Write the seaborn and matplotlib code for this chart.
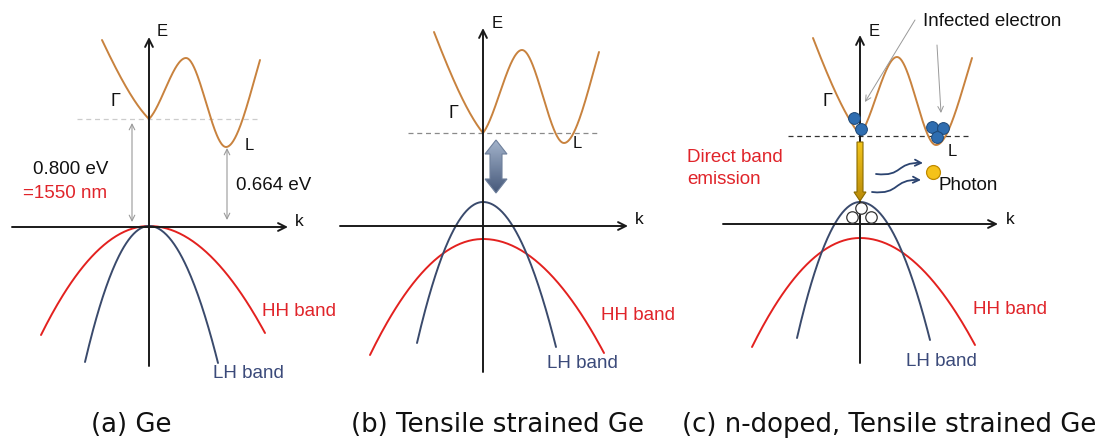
import numpy as np
import pandas as pd
import matplotlib
matplotlib.use("Agg")
import matplotlib.pyplot as plt
import seaborn as sns
from matplotlib.patches import Polygon, FancyArrowPatch
from matplotlib.path import Path

sns.set_theme(style="white")
plt.rcParams['font.family'] = ['Liberation Sans', 'DejaVu Sans']

# ---------------- data (pixel-space diagram coordinates) ----------------
captions = ["(a) Ge", "(b) Tensile strained Ge", "(c) n-doped, Tensile strained Ge"]
caption_x = [91, 351, 682]

# conduction band key points: start, Gamma min, maximum, L min, end
cb_x = [[102, 149, 186, 226, 260], [434, 483, 522, 564, 599], [813, 860, 897, 936, 972]]
cb_y = [[40, 119, 58, 147, 60], [32, 133, 50, 143, 52], [38, 135, 57, 145, 58]]

# valence bands: peak energy, left end, right end
hh_peak = [226, 239, 238]
hh_left = [(41, 335), (370, 355), (752, 347)]
hh_right = [(265, 333), (604, 353), (975, 345)]
lh_peak = [226, 202, 202]
lh_left = [(85, 362), (417, 343), (797, 338)]
lh_right = [(218, 363), (556, 347), (930, 340)]

# axes of each panel
e_axis_x = [149, 483, 860]
e_axis_y = [(366, 37), (372, 28), (363, 35)]
k_axis_y = [227, 226, 224]
k_axis_x = [(12, 288), (340, 628), (723, 998)]

# dashed Gamma-level lines
dash_y = [119, 133, 136]
dash_x = [(77, 257), (408, 597), (788, 968)]
dash_col = ["#cccccc", "#8a8a8a", "#333333"]

# electrons, holes, photon in panel (c)
elec_x = [854, 861, 932, 943, 937]
elec_y = [118, 129, 127, 128, 137]
hole_x = [852, 861, 871]
hole_y = [217, 208, 217]
photon_xy = (933, 172)

colors = {"CB": "#c8823e", "HH": "#e3211f", "LH": "#3a4a6c"}
red_text = "#e0242a"
navy_text = "#3b4a7a"


def hermite(x0, y0, x1, y1, m0, m1, n=80):
    t = np.linspace(0, 1, n)
    dx = x1 - x0
    h00 = 2 * t**3 - 3 * t**2 + 1
    h10 = t**3 - 2 * t**2 + t
    h01 = -2 * t**3 + 3 * t**2
    h11 = t**3 - t**2
    return list(x0 + dx * t), list(h00 * y0 + h10 * dx * m0 + h01 * y1 + h11 * dx * m1)


def cb_curve(xs, ys):
    X, Y = [], []
    avg = [(ys[i + 1] - ys[i]) / (xs[i + 1] - xs[i]) for i in range(4)]
    segs = [(0, 1, 1.25 * avg[0], 0.6 * avg[0]),
            (1, 2, 0.6 * avg[1], 0.0),
            (2, 3, 0.0, 0.0),
            (3, 4, 0.0, 1.35 * avg[3])]
    for a, b, m0, m1 in segs:
        x, y = hermite(xs[a], ys[a], xs[b], ys[b], m0, m1)
        if X:
            x, y = x[1:], y[1:]
        X += x
        Y += y
    return X, Y


def vb_curve(x0, peak, left, right, n=80):
    xl = np.linspace(left[0], x0, n)
    yl = peak + (left[1] - peak) * ((xl - x0) / (left[0] - x0)) ** 2
    xr = np.linspace(x0, right[0], n)[1:]
    yr = peak + (right[1] - peak) * ((xr - x0) / (right[0] - x0)) ** 2
    return list(xl) + list(xr), list(yl) + list(yr)


rows = []
for p in range(3):
    X, Y = cb_curve(cb_x[p], cb_y[p])
    rows += [dict(x=a, y=b, band="CB", unit=f"CB{p}") for a, b in zip(X, Y)]
    X, Y = vb_curve(e_axis_x[p], hh_peak[p], hh_left[p], hh_right[p])
    rows += [dict(x=a, y=b, band="HH", unit=f"HH{p}") for a, b in zip(X, Y)]
    X, Y = vb_curve(e_axis_x[p], lh_peak[p], lh_left[p], lh_right[p])
    rows += [dict(x=a, y=b, band="LH", unit=f"LH{p}") for a, b in zip(X, Y)]
df = pd.DataFrame(rows)

fig = plt.figure(figsize=(11.02, 4.41), dpi=100)
ax = fig.add_axes([0, 0, 1, 1])

# axes arrows
for p in range(3):
    ax.annotate("", xy=(e_axis_x[p], e_axis_y[p][1]), xytext=(e_axis_x[p], e_axis_y[p][0]),
                arrowprops=dict(arrowstyle="->", lw=1.4, color="#1a1a1a", mutation_scale=14,
                                shrinkA=0, shrinkB=0))
    ax.annotate("", xy=(k_axis_x[p][1], k_axis_y[p]), xytext=(k_axis_x[p][0], k_axis_y[p]),
                arrowprops=dict(arrowstyle="->", lw=1.4, color="#1a1a1a", mutation_scale=14,
                                shrinkA=0, shrinkB=0))
    ax.plot(dash_x[p], [dash_y[p]] * 2, ls=(0, (4, 3)), lw=0.9, color=dash_col[p])

sns.lineplot(data=df, x="x", y="y", hue="band", units="unit", estimator=None, sort=False,
             palette=colors, linewidth=1.4, legend=False, ax=ax)

# panel (a) gap arrows
for (gx, y0, y1) in [(132, 123, 222), (227, 148, 220)]:
    ax.annotate("", xy=(gx, y0), xytext=(gx, y1),
                arrowprops=dict(arrowstyle="<->", lw=0.8, color="#9a9a9a", mutation_scale=10,
                                shrinkA=0, shrinkB=0))


def gradient_poly(verts, c_top, c_bot, edge):
    poly = Polygon(verts, closed=True, fc="none", ec=edge, lw=0.8, zorder=4)
    ax.add_patch(poly)
    xs = [v[0] for v in verts]
    ys = [v[1] for v in verts]
    cmap = matplotlib.colors.LinearSegmentedColormap.from_list("g", [c_top, c_bot])
    grad = np.linspace(0, 1, 100).reshape(-1, 1)
    im = ax.imshow(grad, cmap=cmap, aspect="auto", origin="upper",
                   extent=(min(xs), max(xs), max(ys), min(ys)), zorder=3)
    im.set_clip_path(poly)


# panel (b) thick double arrow
cx, top, bot, hw, hl, sw = 496, 140, 193, 11, 14, 6
gradient_poly([(cx, top), (cx + hw, top + hl), (cx + sw, top + hl), (cx + sw, bot - hl),
               (cx + hw, bot - hl), (cx, bot), (cx - hw, bot - hl), (cx - sw, bot - hl),
               (cx - sw, top + hl), (cx - hw, top + hl)], "#a3b3cb", "#46597a", "#6f809c")

# panel (c) emission arrow
cx, top, bot, hw, hl, sw = 860, 142, 201, 6, 9, 3
gradient_poly([(cx - sw, top), (cx + sw, top), (cx + sw, bot - hl), (cx + hw, bot - hl),
               (cx, bot), (cx - hw, bot - hl), (cx - sw, bot - hl)], "#f3c51c", "#b98a08", "#8a6a00")

# electrons / holes / photon
sns.scatterplot(x=elec_x, y=elec_y, s=72, color="#2f6db0", edgecolor="#1d4877", linewidth=0.7,
                ax=ax, zorder=5)
sns.scatterplot(x=hole_x, y=hole_y, s=68, color="white", edgecolor="#333333", linewidth=0.9,
                ax=ax, zorder=5)
sns.scatterplot(x=[photon_xy[0]], y=[photon_xy[1]], s=100, color="#f5c21a", edgecolor="#c08a00",
                linewidth=0.9, ax=ax, zorder=5)

# wavy photon arrows
for (x0, y0, x1, y1) in [(876, 174, 923, 163), (872, 192, 921, 180)]:
    mx = (x0 + x1) / 2
    path = Path([(x0, y0), (mx + 4, y0 + 3), (mx - 4, y1 - 1), (x1, y1)],
                [Path.MOVETO, Path.CURVE4, Path.CURVE4, Path.CURVE4])
    ax.add_patch(FancyArrowPatch(path=path, arrowstyle="->", mutation_scale=11, lw=1.3,
                                 color="#2c4470", zorder=5))

# infected electron pointers
for (x0, y0, x1, y1) in [(915, 20, 865, 102), (937, 45, 941, 113)]:
    ax.annotate("", xy=(x1, y1), xytext=(x0, y0),
                arrowprops=dict(arrowstyle="->", lw=0.7, color="#999999", mutation_scale=10,
                                shrinkA=0, shrinkB=0))

# ---------------- text ----------------
def t(x, y, s, size=13.5, color="#111111", **kw):
    ax.text(x, y, s, fontsize=size, color=color, ha="left", va="center", **kw)

for p, (ex, ey, kx, ky, gx, gy, lx, ly) in enumerate([
        (157, 32, 295, 221, 110, 101, 245, 146),
        (492, 23, 635, 220, 449, 114, 573, 144),
        (869, 31, 1006, 219, 822, 101, 948, 152)]):
    t(ex, ey, "E", 12)
    t(kx, ky, "k", 12.5)
    t(gx, gy, "Γ", 13)
    t(lx, ly, "L", 12)

t(33, 170, "0.800 eV")
t(23, 193, "=1550 nm", color=red_text)
t(236, 185, "0.664 eV")
for (x, y) in [(262, 312), (601, 315), (973, 310)]:
    t(x, y, "HH band", color=red_text)
for (x, y) in [(213, 373), (547, 363), (906, 362)]:
    t(x, y, "LH band", color=navy_text)
t(923, 21, "Infected electron")
t(687, 157, "Direct band", color=red_text)
t(687, 180, "emission", color=red_text)
t(939, 186, "Photon")

for x, s in zip(caption_x, captions):
    ax.text(x, 425, s, fontsize=18.7, color="#111111", ha="left", va="center",
            family=["DejaVu Sans"])

ax.set_xlim(0, 1102)
ax.set_ylim(441, 0)
ax.axis("off")
fig.savefig("out.png", dpi=100, facecolor="white")
